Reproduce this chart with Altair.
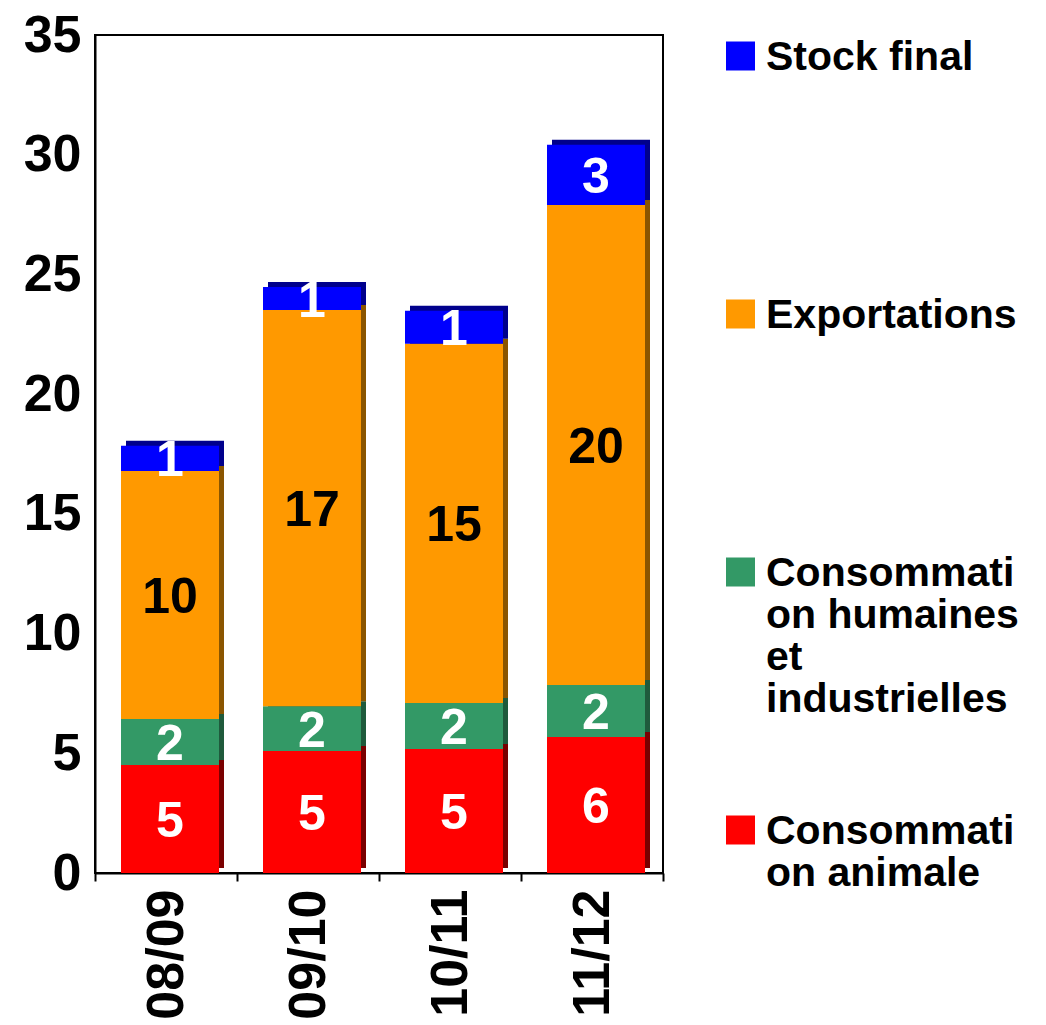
import altair as alt
import pandas as pd

years = ["08/09", "09/10", "10/11", "11/12"]
series = [
    "Consommation animale",
    "Consommation humaines et industrielles",
    "Exportations",
    "Stock final",
]
legend_labels = [
    "Consommati\non animale",
    "Consommati\non humaines\net\nindustrielles",
    "Exportations",
    "Stock final",
]
animale = [4.51, 5.10, 5.18, 5.68]
humaines = [1.92, 1.86, 1.92, 2.17]
exportations = [10.36, 16.55, 15.00, 20.05]
stock = [1.05, 0.96, 1.38, 2.52]

colors = ["#FF0000", "#339966", "#FF9900", "#0000FF"]
dark_colors = ["#7A0000", "#1F5A3C", "#8A5500", "#00008C"]
text_colors = ["white", "white", "black", "white"]
y_ticks = [0, 5, 10, 15, 20, 25, 30, 35]

FONT = "Liberation Sans"

values_by_series = [animale, humaines, exportations, stock]
rows = []
for i, s in enumerate(series):
    for j, yr in enumerate(years):
        rows.append({
            "year": yr,
            "series": s,
            "value": values_by_series[i][j],
            "order": i,
            "dark": dark_colors[i],
            "tc": text_colors[i],
        })
df = pd.DataFrame(rows)

x_enc = alt.X(
    "year:N", sort=years, title=None,
    scale=alt.Scale(paddingInner=0, paddingOuter=0),
    axis=alt.Axis(
        labelAngle=-90, tickBand="extent", tickSize=8, tickWidth=2, tickColor="black",
        domainColor="black", domainWidth=2, labelPadding=8,
        labelFont=FONT, labelFontSize=52, labelFontWeight="bold", labelColor="black",
    ),
)
y_axis = alt.Axis(
    values=y_ticks, grid=False, ticks=False, labelPadding=14, minExtent=86,
    domainColor="black", domainWidth=2,
    labelFont=FONT, labelFontSize=52, labelFontWeight="bold", labelColor="black",
)
y_scale = alt.Scale(domain=[0, 35], nice=False)
y_enc = alt.Y("value:Q", stack="zero", scale=y_scale, axis=y_axis, title=None)
order_enc = alt.Order("order:Q", sort="ascending")

base = alt.Chart(df)

back = base.mark_bar(width=98, xOffset=9, yOffset=-5, y2Offset=-5).encode(
    x=x_enc, y=y_enc, order=order_enc,
    color=alt.Color("dark:N", scale=None),
)
front = base.mark_bar(width=98, xOffset=4).encode(
    x=x_enc, y=y_enc, order=order_enc,
    color=alt.Color("series:N", scale=alt.Scale(domain=series, range=colors), legend=None),
)
labels = base.transform_stack(
    stack="value", groupby=["year"], as_=["v0", "v1"],
    sort=[alt.SortField("order", order="ascending")],
).transform_calculate(
    mid="(datum.v0 + datum.v1) / 2"
).mark_text(
    xOffset=4, dy=3, font=FONT, fontSize=50, fontWeight="bold", baseline="middle", align="center",
).encode(
    x=x_enc,
    y=alt.Y("mid:Q", scale=y_scale, axis=y_axis, title=None),
    text=alt.Text("value:Q", format=".0f"),
    color=alt.Color("tc:N", scale=None),
)

main = alt.layer(back, front, labels).properties(
    width=568, height=838,
    view=alt.ViewBackground(stroke="black", strokeWidth=2),
)

leg_df = pd.DataFrame({"series": series, "label": legend_labels})
legend_y = alt.Y(
    "series:N", sort=list(reversed(series)), axis=None, title=None,
    scale=alt.Scale(range=[21, 795], padding=0),
)
squares = alt.Chart(leg_df).mark_square(size=841, opacity=1).encode(
    x=alt.value(74.5), y=legend_y,
    color=alt.Color("series:N", scale=alt.Scale(domain=series, range=colors), legend=None),
)
texts = alt.Chart(leg_df).mark_text(
    align="left", baseline="middle", lineBreak="\n", lineHeight=42,
    font=FONT, fontSize=41, fontWeight="bold", color="black", dy=2,
).encode(
    x=alt.value(100), y=legend_y, text="label:N",
)
legend_panel = alt.layer(squares, texts).properties(
    width=360, height=838,
    view=alt.ViewBackground(stroke="transparent"),
)

chart = alt.hconcat(main, legend_panel, spacing=0).properties(
    padding={"left": 0, "top": 0, "right": 0, "bottom": 0},
).configure(background="white")

chart.save("out.html", embed_options={"renderer": "svg", "actions": False})
